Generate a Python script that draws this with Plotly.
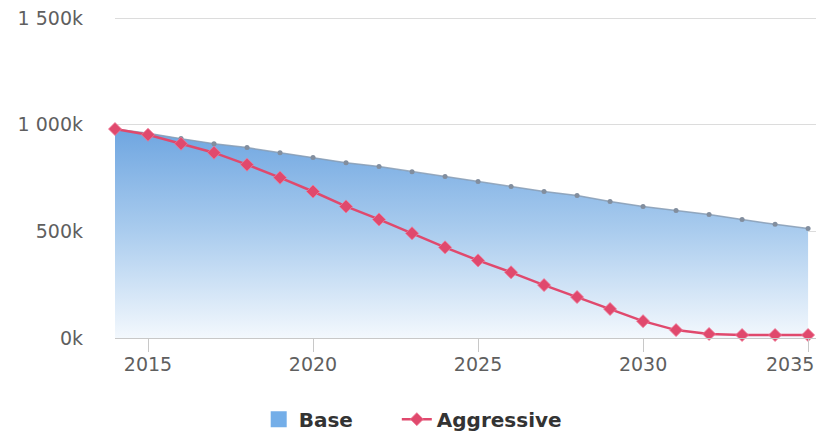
import plotly.graph_objects as go

years = list(range(2014, 2036))
base = [980, 960, 935, 911, 893, 869, 846, 822, 804, 780, 757, 734,
        710, 687, 668, 640, 617, 598, 579, 556, 533, 514]
aggressive = [980, 953, 911, 869, 813, 752, 687, 617, 556, 491, 425, 364,
              308, 248, 192, 136, 79, 37, 19, 14, 14, 14]
base = [v * 1000 for v in base]
aggressive = [v * 1000 for v in aggressive]

y_tick_vals = [0, 500000, 1000000, 1500000]
y_tick_text = ["0k", "500k", "1 000k", "1 500k"]
x_tick_vals = [2015, 2020, 2025, 2030, 2035]
x_tick_text = ["2015", "2020", "2025", "2030", ""]
last_year_label = "2035"

BASE_BLUE = "#74aee8"
AGGR_RED = "#e0496d"
TICK_FONT = dict(family="DejaVu Sans", size=19, color="#5f5f5f")
LEGEND_FONT = dict(size=20, color="#333333", family="DejaVu Sans", weight="bold")

fig = go.Figure()

# Base: gradient-filled area
fig.add_trace(go.Scatter(
    x=years, y=base, name="Base", mode="none", showlegend=False,
    fill="tozeroy",
    fillgradient=dict(
        type="vertical", start=0, stop=1000000,
        colorscale=[[0, "rgba(243,248,253,1)"], [0.5, "rgba(170,204,238,1)"],
                    [1, "rgba(108,164,224,1)"]],
    ),
))
# Base outline with small markers
fig.add_trace(go.Scatter(
    x=years, y=base, name="Base", mode="lines+markers", showlegend=False,
    line=dict(color="rgba(135,156,180,0.85)", width=1.5),
    marker=dict(size=5, color="rgba(130,142,158,1)"),
    cliponaxis=False,
))
# Legend entry for Base (solid swatch)
fig.add_trace(go.Scatter(
    x=[None], y=[None], name="Base", mode="markers", legend="legend",
    marker=dict(symbol="square", size=22, color=BASE_BLUE),
))

fig.add_trace(go.Scatter(
    x=years, y=aggressive, name="Aggressive", mode="lines+markers",
    legend="legend2",
    line=dict(color=AGGR_RED, width=2.5),
    marker=dict(symbol="diamond", size=10, color=AGGR_RED,
                line=dict(color="rgba(240,120,150,0.8)", width=1)),
    cliponaxis=False,
))

fig.update_layout(
    width=816, height=434,
    margin=dict(l=115, r=0, t=16, b=96, autoexpand=False),
    paper_bgcolor="white", plot_bgcolor="white",
    font=dict(family="DejaVu Sans", color="#5f5f5f", size=19),
    showlegend=True,
    legend=dict(
        orientation="h", x=0.205, xanchor="left", y=-0.252, yanchor="middle",
        font=LEGEND_FONT, itemsizing="trace", itemwidth=30,
    ),
    legend2=dict(
        orientation="h", x=0.402, xanchor="left", y=-0.252, yanchor="middle",
        font=LEGEND_FONT, itemsizing="trace", itemwidth=30,
    ),
    annotations=[dict(
        x=1, xref="paper", y=-0.081, yref="paper",
        xanchor="right", yanchor="middle", showarrow=False,
        text=last_year_label, font=TICK_FONT,
    )],
)

fig.update_xaxes(
    range=[2014, 2035.24], tickvals=x_tick_vals, ticktext=x_tick_text,
    showgrid=False, zeroline=False,
    showline=True, linecolor="#c8c8c8", linewidth=1,
    ticks="outside", ticklen=13, tickcolor="#c8c8c8",
    ticklabelstandoff=-4,
    tickfont=TICK_FONT,
)
fig.update_yaxes(
    range=[0, 1510000], tickvals=y_tick_vals, ticktext=y_tick_text,
    showgrid=True, gridcolor="#dcdcdc", gridwidth=1, zeroline=False,
    ticks="", ticklabelstandoff=31,
    tickfont=TICK_FONT,
)

fig.write_html("out.html")
